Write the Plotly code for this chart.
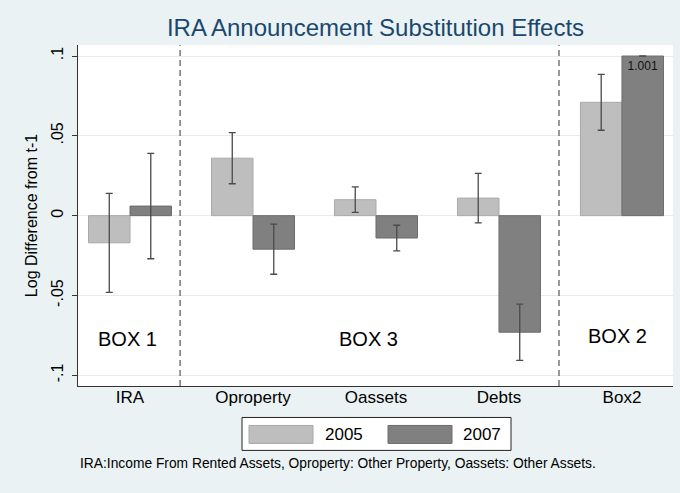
import plotly.graph_objects as go

# ---------------- data ----------------
categories = ["IRA", "Oproperty", "Oassets", "Debts", "Box2"]
series_names = ["2005", "2007"]
values_2005 = [-0.017, 0.036, 0.010, 0.011, 0.071]
ci_2005 = [0.031, 0.016, 0.008, 0.0155, 0.0175]
values_2007 = [0.006, -0.021, -0.014, -0.073, 0.100]
ci_2007 = [0.033, 0.0157, 0.008, 0.0176, None]
labels_2007 = ["", "", "", "", "1.001"]
ytick_vals = [-0.1, -0.05, 0, 0.05, 0.1]
ytick_text = ["-.1", "-.05", "0", ".05", ".1"]
box_labels = ["BOX 1", "BOX 3", "BOX 2"]
box_label_x = [-0.02, 1.935, 3.96]
box_label_y = [-0.0775, -0.0775, -0.0756]
divider_x = [0.407, 3.488]
title_text = "IRA Announcement Substitution Effects"
ytitle = "Log Difference from t-1"
footnote = "IRA:Income From Rented Assets, Oproperty: Other Property, Oassets: Other Assets."

FONT = "Liberation Sans, Arial, sans-serif"
BG = "#eaf2f3"
C2005 = "#bebebe"
C2007 = "#808080"
ERR = "#4a4a4a"

W, H = 680, 493
L, R, T, B = 78, 7, 45, 106.5
pw, ph = W - L - R, H - T - B


def px(xp):
    return (xp - L) / pw


def py(yp):
    return (H - B - yp) / ph


fig = go.Figure()
fig.add_trace(go.Bar(
    x=categories, y=values_2005, name=series_names[0],
    marker=dict(color=C2005, line=dict(color="#a9a9a9", width=1)),
    error_y=dict(type="data", array=ci_2005, visible=True, color=ERR, thickness=1.3, width=3.5),
    showlegend=False,
))
fig.add_trace(go.Bar(
    x=categories, y=values_2007, name=series_names[1],
    marker=dict(color=C2007, line=dict(color="#6c6c6c", width=1)),
    error_y=dict(type="data", array=ci_2007, visible=True, color=ERR, thickness=1.3, width=3.5),
    text=labels_2007, textposition="inside", insidetextanchor="end",
    textfont=dict(family=FONT, size=12, color="#111111"),
    showlegend=False,
))

shapes = []
for xv in divider_x:
    shapes.append(dict(type="line", xref="x", yref="paper", x0=xv, x1=xv, y0=0, y1=1,
                       line=dict(color="#555555", width=1.2, dash="6px,4px")))

# legend drawn as box + swatches
shapes.append(dict(type="rect", xref="paper", yref="paper",
                   x0=px(242), x1=px(511), y0=py(451), y1=py(418),
                   line=dict(color="#222222", width=1), fillcolor="white"))
shapes.append(dict(type="rect", xref="paper", yref="paper",
                   x0=px(249), x1=px(313), y0=py(444), y1=py(426),
                   line=dict(color="#a9a9a9", width=1), fillcolor=C2005))
shapes.append(dict(type="rect", xref="paper", yref="paper",
                   x0=px(388), x1=px(452), y0=py(444), y1=py(426),
                   line=dict(color="#6c6c6c", width=1), fillcolor=C2007))

annotations = []
for t, xv, yv in zip(box_labels, box_label_x, box_label_y):
    annotations.append(dict(text=t, x=xv, y=yv, xref="x", yref="y", showarrow=False,
                            font=dict(family=FONT, size=20, color="black")))
annotations.append(dict(text=series_names[0], x=px(323), y=py(435), xref="paper", yref="paper",
                        xanchor="left", yanchor="middle", showarrow=False,
                        font=dict(family=FONT, size=17, color="black")))
annotations.append(dict(text=series_names[1], x=px(461), y=py(435), xref="paper", yref="paper",
                        xanchor="left", yanchor="middle", showarrow=False,
                        font=dict(family=FONT, size=17, color="black")))
annotations.append(dict(text=footnote, x=px(78), y=py(464), xref="paper", yref="paper",
                        xanchor="left", yanchor="middle", showarrow=False,
                        font=dict(family=FONT, size=13.8, color="black")))

fig.update_layout(
    width=W, height=H,
    margin=dict(l=L, r=R, t=T, b=B, pad=0, autoexpand=False),
    paper_bgcolor=BG, plot_bgcolor="white",
    barmode="group", bargap=0.325, bargroupgap=0,
    title=dict(text=title_text, x=(L + pw / 2) / W, xanchor="center", y=1 - 28 / H, yanchor="middle",
               font=dict(family=FONT, size=24, color="#1a476f")),
    font=dict(family=FONT, color="black"),
    shapes=shapes, annotations=annotations,
    xaxis=dict(type="category", range=[-0.423, 4.415], showgrid=False, zeroline=False,
               automargin=False,
               showline=True, linecolor="#333333", linewidth=1.2, ticks="",
               ticklabelstandoff=-5,
               tickfont=dict(family=FONT, size=17, color="black")),
    yaxis=dict(range=[-0.1067, 0.1069], tickvals=ytick_vals, ticktext=ytick_text,
               automargin=False,
               tickangle=-90, showgrid=True, gridcolor="#e3ecee", gridwidth=1,
               zeroline=False, showline=True, linecolor="#333333", linewidth=1.2,
               ticks="outside", ticklen=5, tickcolor="#333333", ticklabelstandoff=3,
               tickfont=dict(family=FONT, size=16, color="black"),
               title=dict(text=ytitle, font=dict(family=FONT, size=16, color="black"), standoff=6)),
)

fig.write_html("out.html", config={"displayModeBar": False},
               post_script="document.body.style.margin='0';document.body.style.overflow='hidden';")
